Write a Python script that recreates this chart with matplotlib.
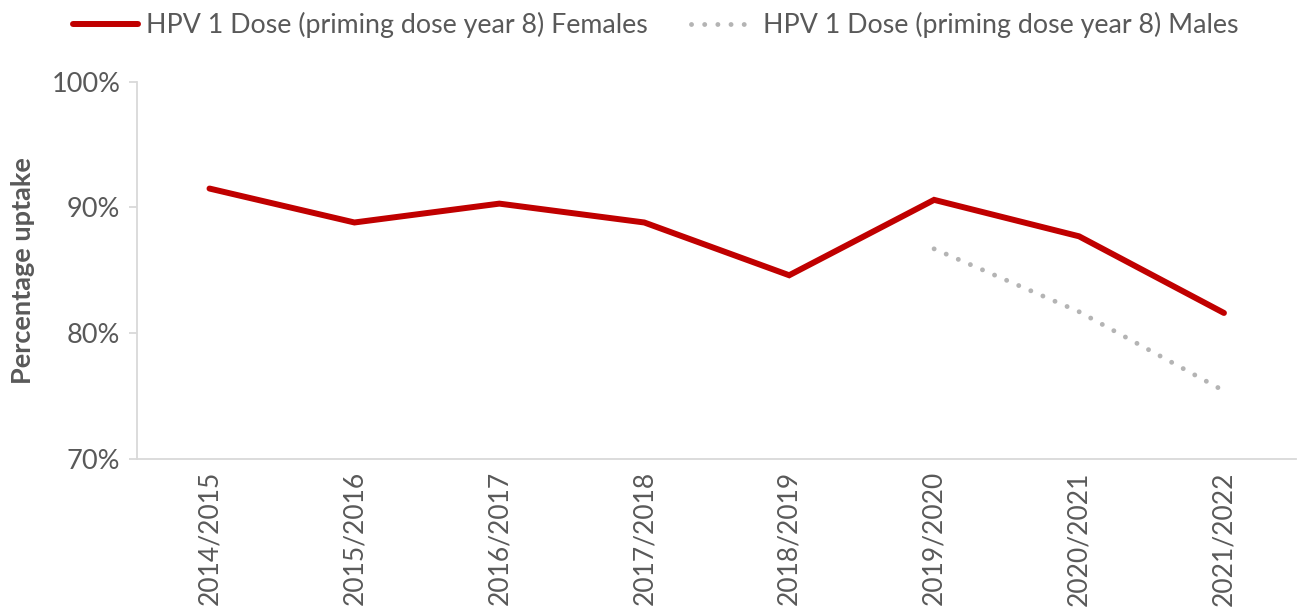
import numpy as np
import matplotlib.pyplot as plt
from matplotlib.ticker import FuncFormatter

##---- Data ----##

years = ["2014/2015", "2015/2016", "2016/2017", "2017/2018",
         "2018/2019", "2019/2020", "2020/2021", "2021/2022"]
females = [91.5, 88.8, 90.3, 88.8, 84.6, 90.6, 87.7, 81.6]
# males only reported from 2019/2020
males = [np.nan, np.nan, np.nan, np.nan, np.nan, 86.7, 81.7, 75.4]

label_f = "HPV 1 Dose (priming dose year 8) Females"
label_m = "HPV 1 Dose (priming dose year 8) Males"

##---- Style ----##

plt.rcParams['font.family'] = ['Lato', 'DejaVu Sans']
grey_txt = '#595959'
axis_col = '#D9D9D9'

fig = plt.figure(figsize=(12.99, 6.10), dpi=100)
ax = fig.add_axes([0.1055, 0.248, 0.8925, 0.618])

x = np.arange(len(years))
ax.plot(x, females, color='#C00000', lw=4.3, solid_capstyle='round',
        solid_joinstyle='miter', label=label_f)
ax.plot(x, males, color='#B4B4B4', lw=3.5, linestyle=(0, (0.01, 2.7)),
        dash_capstyle='round', label=label_m)

ax.set_xlim(-0.5, len(years) - 0.5)
ax.set_ylim(70, 100)
ax.set_yticks([70, 80, 90, 100])
ax.yaxis.set_major_formatter(FuncFormatter(lambda v, p: "{:.0f}%".format(v)))

ax.set_xticks(x)
ax.set_xticklabels(years, rotation=90, va='top', ha='center')

for s in ['top', 'right']:
    ax.spines[s].set_visible(False)
for s in ['left', 'bottom']:
    ax.spines[s].set_color(axis_col)
    ax.spines[s].set_linewidth(1.3)

ax.tick_params(axis='y', colors=grey_txt, labelsize=19.5, length=6,
               width=1.3, color=axis_col, pad=6)
ax.tick_params(axis='x', colors=grey_txt, labelsize=19, length=0, pad=9)

ax.set_ylabel("Percentage uptake", fontsize=19.5, fontweight='bold',
              color=grey_txt, labelpad=10)
ax.yaxis.set_label_coords(-0.088, 0.5)

leg = fig.legend(loc='upper left', bbox_to_anchor=(0.038, 1.02), ncol=2,
                 frameon=False, fontsize=19.3, handlelength=2.4,
                 handletextpad=0.3, columnspacing=1.6)
for t in leg.get_texts():
    t.set_color(grey_txt)

fig.savefig("out.png", dpi=100)
